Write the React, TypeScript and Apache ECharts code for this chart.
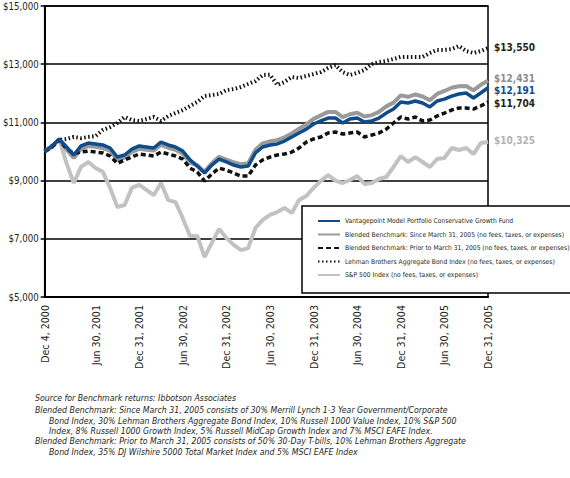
import React, { useEffect, useRef } from "react";
import * as echarts from "echarts";

const FONT = "'DejaVu Sans Condensed', 'Liberation Sans', sans-serif";

const categories = [
  "Dec 4, 2000", "Dec 31, 2000",
  "Jan 31, 2001", "Feb 28, 2001", "Mar 31, 2001", "Apr 30, 2001", "May 31, 2001", "Jun 30, 2001",
  "Jul 31, 2001", "Aug 31, 2001", "Sep 30, 2001", "Oct 31, 2001", "Nov 30, 2001", "Dec 31, 2001",
  "Jan 31, 2002", "Feb 28, 2002", "Mar 31, 2002", "Apr 30, 2002", "May 31, 2002", "Jun 30, 2002",
  "Jul 31, 2002", "Aug 31, 2002", "Sep 30, 2002", "Oct 31, 2002", "Nov 30, 2002", "Dec 31, 2002",
  "Jan 31, 2003", "Feb 28, 2003", "Mar 31, 2003", "Apr 30, 2003", "May 31, 2003", "Jun 30, 2003",
  "Jul 31, 2003", "Aug 31, 2003", "Sep 30, 2003", "Oct 31, 2003", "Nov 30, 2003", "Dec 31, 2003",
  "Jan 31, 2004", "Feb 29, 2004", "Mar 31, 2004", "Apr 30, 2004", "May 31, 2004", "Jun 30, 2004",
  "Jul 31, 2004", "Aug 31, 2004", "Sep 30, 2004", "Oct 31, 2004", "Nov 30, 2004", "Dec 31, 2004",
  "Jan 31, 2005", "Feb 28, 2005", "Mar 31, 2005", "Apr 30, 2005", "May 31, 2005", "Jun 30, 2005",
  "Jul 31, 2005", "Aug 31, 2005", "Sep 30, 2005", "Oct 31, 2005", "Nov 30, 2005", "Dec 31, 2005",
];

const tickLabels = [
  "Dec 4, 2000", "Jun 30, 2001", "Dec 31, 2001", "Jun 30, 2002", "Dec 31, 2002", "Jun 30, 2003",
  "Dec 31, 2003", "Jun 30, 2004", "Dec 31, 2004", "Jun 30, 2005", "Dec 31, 2005",
];

const seriesNames = [
  "Vantagepoint Model Portfolio Conservative Growth Fund",
  "Blended Benchmark: Since March 31, 2005 (no fees, taxes, or expenses)",
  "Blended Benchmark: Prior to March 31, 2005 (no fees, taxes, or expenses)",
  "Lehman Brothers Aggregate Bond Index (no fees, taxes, or expenses)",
  "S&P 500 Index (no fees, taxes, or expenses)",
];

const vantagepoint = [
  10000, 10190, 10430, 10155, 9880, 10190, 10290, 10260, 10225, 10120, 9810, 9880, 10085, 10190,
  10155, 10120, 10325, 10225, 10155, 10015, 9710, 9500, 9260, 9535, 9740, 9640, 9535, 9465, 9500,
  9950, 10155, 10225, 10260, 10360, 10500, 10635, 10770, 10945, 11050, 11150, 11150, 10980, 11115,
  11150, 11015, 11050, 11150, 11320, 11460, 11700, 11665, 11735, 11665, 11530, 11735, 11800, 11905,
  11975, 12010, 11840, 12010, 12191,
];

const blendedSince = [
  10000, 10170, 10410, 10070, 9780, 10090, 10190, 10160, 10120, 10030, 9720, 9790, 9990, 10090,
  10060, 10030, 10230, 10130, 10060, 9920, 9620, 9530, 9300, 9600, 9820, 9720, 9630, 9560, 9600,
  10060, 10280, 10350, 10390, 10490, 10620, 10780, 10930, 11120, 11240, 11360, 11360, 11180, 11280,
  11330, 11200, 11250, 11360, 11550, 11680, 11930, 11880, 11960, 11890, 11760, 11980, 12080, 12190,
  12240, 12250, 12100, 12290, 12431,
];

const blendedPrior = [
  10000, 10150, 10400, 10100, 9930, 9980, 10015, 9980, 9950, 9845, 9590, 9710, 9810, 9915,
  9880, 9845, 9980, 9915, 9845, 9740, 9430, 9295, 8985, 9225, 9430, 9360, 9260, 9155, 9155,
  9535, 9710, 9810, 9880, 9915, 9980, 10120, 10325, 10430, 10500, 10635, 10670, 10600, 10635,
  10670, 10500, 10565, 10635, 10770, 10980, 11185, 11115, 11185, 11050, 11080, 11220, 11320, 11425,
  11495, 11495, 11460, 11560, 11704,
];

const lehman = [
  10000, 10190, 10395, 10430, 10500, 10460, 10500, 10530, 10740, 10840, 10980, 11185, 11080, 11050,
  11115, 11185, 11050, 11220, 11320, 11425, 11560, 11700, 11905, 11940, 11975, 12110, 12145, 12215,
  12320, 12420, 12630, 12640, 12285, 12390, 12560, 12525, 12595, 12660, 12730, 12870, 12970, 12730,
  12630, 12700, 12800, 13005, 13075, 13110, 13180, 13250, 13250, 13250, 13250, 13385, 13490, 13490,
  13520, 13625, 13450, 13385, 13450, 13550,
];

const sp500 = [
  10000, 10150, 10430, 9600, 8917, 9470, 9640, 9430, 9300, 8750, 8090, 8160, 8750, 8850,
  8680, 8500, 8920, 8330, 8260, 7710, 7100, 7100, 6370, 6860, 7340, 7030, 6790, 6610, 6680,
  7370, 7650, 7820, 7920, 8060, 7890, 8330, 8470, 8750, 8990, 9190, 9000, 8917, 9020,
  9158, 8883, 8917, 9054, 9123, 9467, 9845, 9639, 9810, 9639, 9467, 9742, 9776, 10120,
  10051, 10120, 9913, 10291, 10325,
];

const footnotes = [
  { text: "Source for Benchmark returns: Ibbotson Associates", indent: false },
  { text: "Blended Benchmark: Since March 31, 2005 consists of 30% Merrill Lynch 1-3 Year Government/Corporate", indent: false },
  { text: "Bond Index, 30% Lehman Brothers Aggregate Bond Index, 10% Russell 1000 Value Index, 10% S&P 500", indent: true },
  { text: "Index, 8% Russell 1000 Growth Index, 5% Russell MidCap Growth Index and 7% MSCI EAFE Index.", indent: true },
  { text: "Blended Benchmark: Prior to March 31, 2005 consists of 50% 30-Day T-bills, 10% Lehman Brothers Aggregate", indent: false },
  { text: "Bond Index, 35% DJ Wilshire 5000 Total Market Index and 5% MSCI EAFE Index", indent: true },
];

const fmt = (v: number) => "$" + Math.round(v).toLocaleString("en-US");

export default function App() {
  const ref = useRef<HTMLDivElement>(null);
  useEffect(() => {
    const chart = echarts.init(ref.current!, null, { renderer: "svg" });
    const endLabel = (color: string, dy: number) => ({
      show: true,
      formatter: (p: any) => fmt(p.value),
      color,
      fontSize: 10,
      fontWeight: "bold" as const,
      fontFamily: FONT,
      distance: 6,
      offset: [0, dy],
    });
    const mk = (i: number, data: number[], lineStyle: any, labelColor: string, dy: number, z: number) => ({
      name: seriesNames[i],
      type: "line" as const,
      data,
      symbol: "none",
      showSymbol: false,
      z,
      lineStyle,
      itemStyle: { color: lineStyle.color },
      endLabel: endLabel(labelColor, dy),
      emphasis: { disabled: true },
    });
    const option: any = {
      animation: false,
      textStyle: { fontFamily: FONT },
      grid: {
        left: 42, top: 6, width: 446, height: 291,
        show: true, borderColor: "#000", borderWidth: 1.5, backgroundColor: "transparent",
      },
      xAxis: {
        type: "category",
        data: categories,
        boundaryGap: false,
        axisLine: { lineStyle: { color: "#000", width: 2 } },
        axisTick: { show: false },
        splitLine: { show: false },
        axisLabel: {
          rotate: 90,
          interval: (idx: number, val: string) => tickLabels.includes(val),
          fontSize: 10.6,
          fontFamily: FONT,
          color: "#231f20",
          margin: 8,
        },
      },
      yAxis: {
        type: "value",
        min: 5000,
        max: 15000,
        interval: 2000,
        axisLine: { show: true, lineStyle: { color: "#000", width: 2 } },
        axisTick: { show: true, length: 4, lineStyle: { color: "#000", width: 1.5 } },
        splitLine: { lineStyle: { color: "#000", width: 1.5 } },
        axisLabel: {
          formatter: (v: number) => fmt(v),
          fontSize: 9.6,
          fontFamily: FONT,
          color: "#231f20",
          margin: 6,
        },
      },
      legend: {
        orient: "vertical",
        left: 312,
        top: 212,
        itemWidth: 22,
        itemHeight: 10,
        itemGap: 5.5,
        z: 10,
        selectedMode: false,
        data: seriesNames,
        itemStyle: { opacity: 0 },
        textStyle: { fontSize: 6.7, fontFamily: FONT, color: "#231f20" },
      },
      graphic: [
        {
          type: "rect",
          z: 9,
          shape: { x: 302, y: 206, width: 290, height: 87 },
          style: { fill: "#fff", stroke: "#000", lineWidth: 1.5 },
        },
        ...footnotes.map((f, i) => ({
          type: "text",
          x: f.indent ? 49 : 35,
          y: [398, 410, 420.5, 431, 441, 451.5][i],
          style: {
            text: f.text,
            fontSize: 8.7,
            fontStyle: "italic",
            fontFamily: FONT,
            fill: "#231f20",
            verticalAlign: "middle",
          },
        })),
      ],
      series: [
        mk(4, sp500, { color: "#c2c2c2", width: 4 }, "#b3b3b3", -2, 2),
        mk(3, lehman, { color: "#111", width: 4, type: [1.5, 2.5] }, "#231f20", -1, 3),
        mk(1, blendedSince, { color: "#9a9a9a", width: 4 }, "#8c8c8c", -2, 4),
        mk(2, blendedPrior, { color: "#111", width: 3.5, type: [5, 3] }, "#231f20", 2, 5),
        mk(0, vantagepoint, { color: "#0f4c8c", width: 3.5 }, "#0f4c8c", 3, 6),
      ],
    };
    chart.setOption(option);
    return () => chart.dispose();
  }, []);
  return <div ref={ref} style={{ position: "absolute", left: 0, top: 0, width: 570, height: 478 }} />;
}
